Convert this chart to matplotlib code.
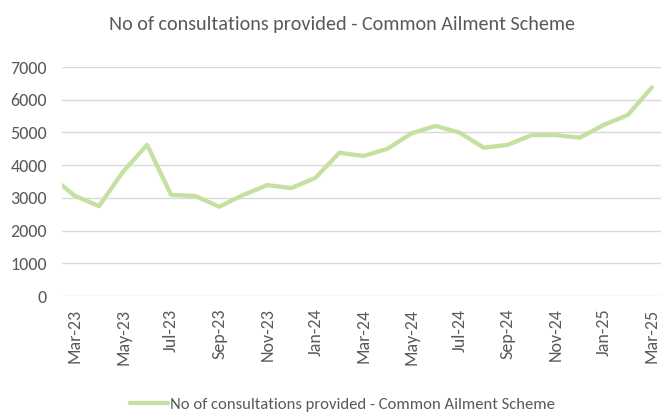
import matplotlib
matplotlib.use("Agg")
import matplotlib.pyplot as plt

plt.rcParams['font.family'] = ['Carlito', 'DejaVu Sans']

# monthly figures, Feb-23 only sits partly off the left edge
months = ["Feb-23", "Mar-23", "Apr-23", "May-23", "Jun-23", "Jul-23", "Aug-23",
          "Sep-23", "Oct-23", "Nov-23", "Dec-23", "Jan-24", "Feb-24", "Mar-24",
          "Apr-24", "May-24", "Jun-24", "Jul-24", "Aug-24", "Sep-24", "Oct-24",
          "Nov-24", "Dec-24", "Jan-25", "Feb-25", "Mar-25"]
consultations = [3650, 3060, 2750, 3800, 4620, 3090, 3060, 2730, 3090, 3390,
                 3300, 3610, 4380, 4280, 4500, 4975, 5200, 4995, 4535, 4620,
                 4920, 4920, 4840, 5230, 5535, 6380]
series_name = "No of consultations provided - Common Ailment Scheme"
yticks = [0, 1000, 2000, 3000, 4000, 5000, 6000, 7000]

grey = "#595959"
green = "#c5e1a2"

fig = plt.figure(figsize=(6.61, 4.15), dpi=100)
ax = fig.add_axes([0.0938, 0.2867, 0.9062, 0.5518])

x = list(range(-1, len(months) - 1))
ax.plot(x, consultations, color=green, lw=3.1, solid_joinstyle="round",
        solid_capstyle="round", label=series_name)

ax.set_xlim(-0.54, 24.38)
ax.set_ylim(0, 7000)
ax.set_yticks(yticks)
ax.set_yticklabels([str(v) for v in yticks])
tick_pos = [i for i in x if i >= 0 and i % 2 == 0]
ax.set_xticks(tick_pos)
ax.set_xticklabels([months[i + 1] for i in tick_pos], rotation=90)

ax.grid(axis="y", color="#d9d9d9", lw=1)
ax.set_axisbelow(True)
for s in ax.spines.values():
    s.set_visible(False)
ax.tick_params(length=0, colors=grey, labelsize=13)
ax.tick_params(axis="y", pad=11)
ax.tick_params(axis="x", pad=9)

fig.text(0.518, 0.928, series_name, ha="center", va="baseline",
         fontsize=14.5, color=grey)
fig.legend(loc="center", bbox_to_anchor=(0.518, 0.026), frameon=False,
           fontsize=12, labelcolor=grey, handlelength=2.3, handletextpad=0.15)

fig.savefig("out.png", dpi=100)
